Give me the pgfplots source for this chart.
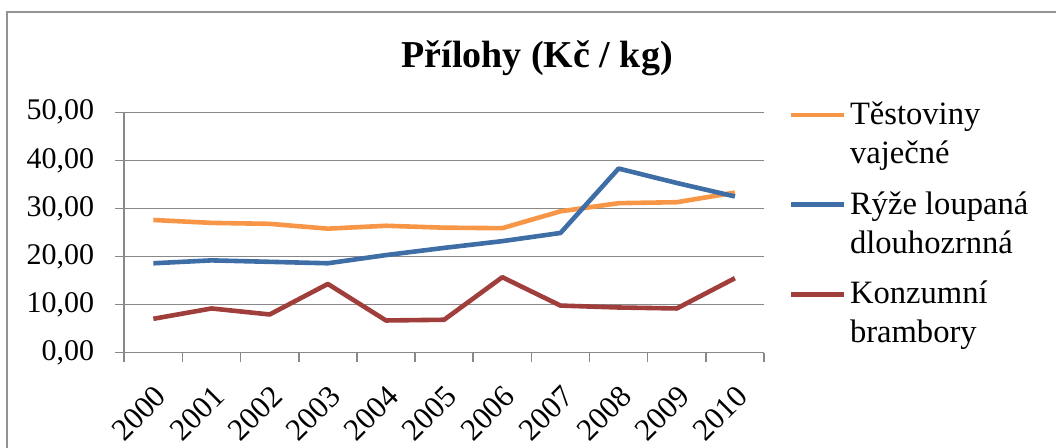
\documentclass[border=0pt]{standalone}
\usepackage{pgfplots}
\pgfplotsset{compat=1.18}
\usepackage{fontspec}
\setmainfont{Liberation Serif}
\definecolor{cOrange}{HTML}{F79646}
\definecolor{cBlue}{HTML}{3F6EA7}
\definecolor{cRed}{HTML}{A03E3B}
\definecolor{cGrid}{HTML}{888888}

\begin{document}
\begin{tikzpicture}
\useasboundingbox (0,0) rectangle (528pt,224pt);
% chart area border
\draw[cGrid!90, line width=0.7pt] (3.5pt,-2pt) -- (3.5pt,218pt) -- (530pt,218pt);
\begin{axis}[
    at={(62.15pt,47.65pt)}, anchor=south west,
    width=319.85pt, height=120.2pt, scale only axis,
    xmin=-0.5, xmax=10.5, ymin=0, ymax=50,
    axis x line*=bottom, axis y line*=left,
    axis line style={cGrid, line width=0.8pt, -},
    tick align=outside,
    major tick length=4.5pt,
    tick style={cGrid, line width=0.8pt},
    xtick={-0.5,0.5,...,10.5},
    xticklabels={},
    extra x ticks={0,1,2,3,4,5,6,7,8,9,10},
    extra x tick labels={2000,2001,2002,2003,2004,2005,2006,2007,2008,2009,2010},
    extra x tick style={major tick length=0pt, xticklabel style={xshift=0pt, yshift=-14pt, rotate=45, anchor=north east, inner sep=1pt, font=\fontsize{15.5}{18}\selectfont}},
    ytick={0,10,...,50},
    ymajorgrids,
    grid style={cGrid, line width=0.8pt},
    yticklabel style={font=\fontsize{15}{18}\selectfont, xshift=-7pt, /pgf/number format/.cd, fixed, fixed zerofill, precision=2, use comma, assume math mode=true},
    legend style={draw=none, fill=none, at={(1,1)}, anchor=north west, xshift=9pt, yshift=9.5pt,
        font=\fontsize{16.3}{19.5}\selectfont, cells={anchor=west, align=left}, row sep=8.5pt,
        /tikz/every even column/.append style={column sep=3.5pt}},
    legend image code/.code={\draw[#1, line width=2.3pt] (0pt,9.6pt) -- (26.5pt,9.6pt);},
    every axis plot/.append style={line width=2.3pt, line join=round, no markers},
]
\addplot[cOrange] coordinates {(0,27.6) (1,27.0) (2,26.8) (3,25.8) (4,26.4) (5,26.0) (6,25.9) (7,29.4) (8,31.1) (9,31.3) (10,33.3)};
\addlegendentry{Těstoviny\\vaječné}
\addplot[cBlue] coordinates {(0,18.6) (1,19.2) (2,18.9) (3,18.6) (4,20.3) (5,21.8) (6,23.2) (7,24.9) (8,38.3) (9,35.3) (10,32.5)};
\addlegendentry{Rýže loupaná\\dlouhozrnná}
\addplot[cRed] coordinates {(0,7.05) (1,9.2) (2,7.95) (3,14.3) (4,6.7) (5,6.85) (6,15.7) (7,9.8) (8,9.4) (9,9.2) (10,15.5)};
\addlegendentry{Konzumní\\brambory}
\end{axis}
\node[font=\bfseries\fontsize{19}{22}\selectfont] at (268.5pt,195pt) {Přílohy (Kč / kg)};
\end{tikzpicture}
\end{document}
